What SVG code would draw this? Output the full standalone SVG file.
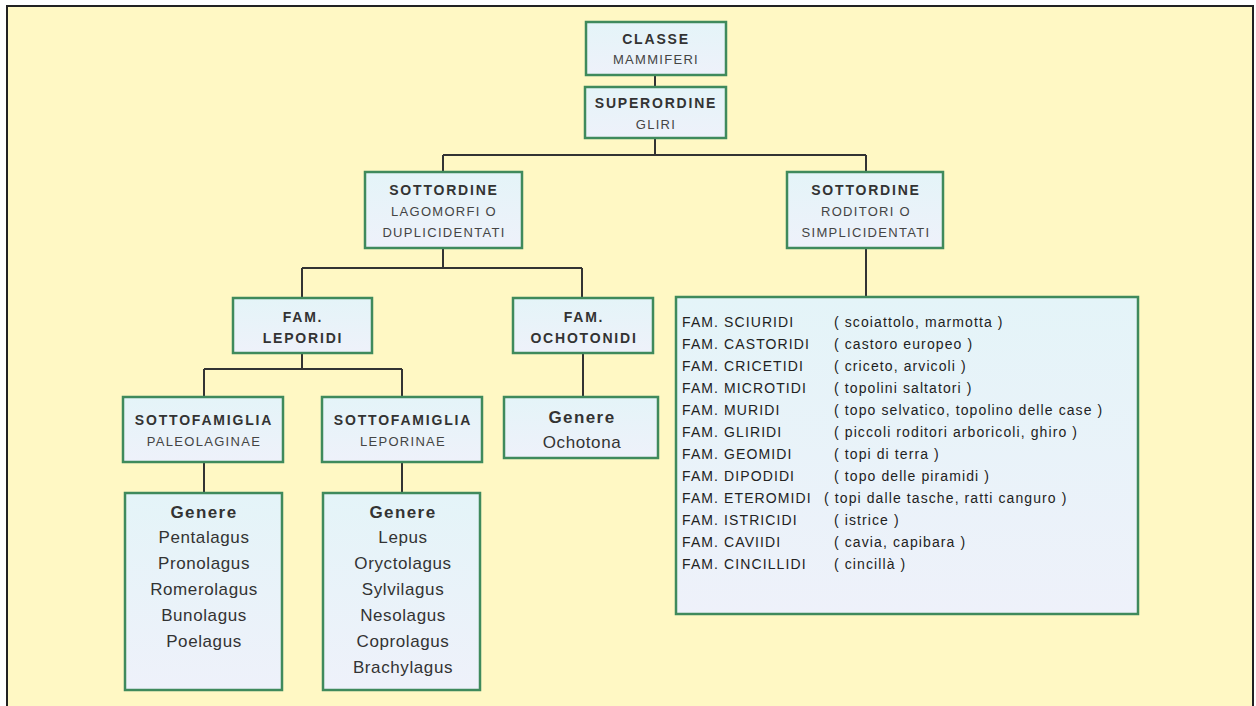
<svg xmlns="http://www.w3.org/2000/svg" width="1256" height="706" viewBox="0 0 1256 706">
<defs>
<linearGradient id="bf" x1="0" y1="0" x2="0" y2="1">
<stop offset="0" stop-color="#e4f4f8"/>
<stop offset="1" stop-color="#eef1fa"/>
</linearGradient>
<style>
.box{fill:url(#bf);stroke:#3f8a5c;stroke-width:2.5}
.t{font-family:"Liberation Sans",Arial,sans-serif;fill:#333;text-anchor:middle}
.h{font-size:14px;font-weight:bold;letter-spacing:1.8px}
.s{font-size:13px;letter-spacing:1.3px;fill:#444}
.g{font-size:17px;letter-spacing:0.6px}
.gb{font-size:17px;font-weight:bold;letter-spacing:1.4px}
.l{font-family:"Liberation Sans",Arial,sans-serif;fill:#222;font-size:14px;letter-spacing:1.1px}
.c{fill:none;stroke:#333;stroke-width:2}
</style>
</defs>
<rect x="0" y="0" width="1256" height="706" fill="#ffffff"/>
<rect x="7" y="6" width="1246" height="710" fill="#fff8c4" stroke="#222" stroke-width="2"/>
<g id="connectors">
<path class="c" d="M655 75V87"/>
<path class="c" d="M655 138V155M443 155H866M443 155V172M866 155V172"/>
<path class="c" d="M443 248V268M302 268H582M302 268V298M582 268V298"/>
<path class="c" d="M866 248V297"/>
<path class="c" d="M302 353V369M204 369H402M204 369V397M402 369V397"/>
<path class="c" d="M583 353V397"/>
<path class="c" d="M204 462V493M402 462V493"/>
</g>
<g id="classe">
<rect class="box" x="586" y="22" width="140" height="53"/>
<text class="t h" x="656" y="44">CLASSE</text>
<text class="t s" x="656" y="64">MAMMIFERI</text>
</g>
<g id="superordine">
<rect class="box" x="585" y="87" width="141" height="51"/>
<text class="t h" x="656" y="108">SUPERORDINE</text>
<text class="t s" x="656" y="129">GLIRI</text>
</g>
<g id="sottordine-lagomorfi">
<rect class="box" x="365" y="172" width="157" height="76"/>
<text class="t h" x="444" y="195">SOTTORDINE</text>
<text class="t s" x="444" y="216">LAGOMORFI O</text>
<text class="t s" x="444" y="237">DUPLICIDENTATI</text>
</g>
<g id="sottordine-roditori">
<rect class="box" x="787" y="172" width="156" height="76"/>
<text class="t h" x="866" y="195">SOTTORDINE</text>
<text class="t s" x="866" y="216">RODITORI O</text>
<text class="t s" x="866" y="237">SIMPLICIDENTATI</text>
</g>
<g id="fam-leporidi">
<rect class="box" x="233" y="298" width="139" height="55"/>
<text class="t h" x="303" y="322">FAM.</text>
<text class="t h" x="303" y="343">LEPORIDI</text>
</g>
<g id="fam-ochotonidi">
<rect class="box" x="513" y="298" width="140" height="55"/>
<text class="t h" x="584" y="322">FAM.</text>
<text class="t h" x="584" y="343">OCHOTONIDI</text>
</g>
<g id="sottofamiglia-paleolaginae">
<rect class="box" x="123" y="397" width="160" height="65"/>
<text class="t h" x="204" y="425">SOTTOFAMIGLIA</text>
<text class="t s" x="204" y="446">PALEOLAGINAE</text>
</g>
<g id="sottofamiglia-leporinae">
<rect class="box" x="322" y="397" width="160" height="65"/>
<text class="t h" x="403" y="425">SOTTOFAMIGLIA</text>
<text class="t s" x="403" y="446">LEPORINAE</text>
</g>
<g id="genere-ochotona">
<rect class="box" x="504" y="397" width="154" height="61"/>
<text class="t gb" x="582" y="423">Genere</text>
<text class="t g" x="582" y="448">Ochotona</text>
</g>
<g id="genere-paleolaginae">
<rect class="box" x="125" y="493" width="157" height="197"/>
<text class="t gb" x="204" y="518">Genere</text>
<text class="t g" x="204" y="543">Pentalagus</text>
<text class="t g" x="204" y="569">Pronolagus</text>
<text class="t g" x="204" y="595">Romerolagus</text>
<text class="t g" x="204" y="621">Bunolagus</text>
<text class="t g" x="204" y="647">Poelagus</text>
</g>
<g id="genere-leporinae">
<rect class="box" x="323" y="493" width="157" height="197"/>
<text class="t gb" x="403" y="518">Genere</text>
<text class="t g" x="403" y="543">Lepus</text>
<text class="t g" x="403" y="569">Oryctolagus</text>
<text class="t g" x="403" y="595">Sylvilagus</text>
<text class="t g" x="403" y="621">Nesolagus</text>
<text class="t g" x="403" y="647">Coprolagus</text>
<text class="t g" x="403" y="673">Brachylagus</text>
</g>
<g id="famiglie-roditori">
<rect class="box" x="676" y="297" width="462" height="317"/>
<text class="l" x="682" y="327">FAM. SCIURIDI</text><text class="l" x="834" y="327">( scoiattolo, marmotta )</text>
<text class="l" x="682" y="349">FAM. CASTORIDI</text><text class="l" x="834" y="349">( castoro europeo )</text>
<text class="l" x="682" y="371">FAM. CRICETIDI</text><text class="l" x="834" y="371">( criceto, arvicoli )</text>
<text class="l" x="682" y="393">FAM. MICROTIDI</text><text class="l" x="834" y="393">( topolini saltatori )</text>
<text class="l" x="682" y="415">FAM. MURIDI</text><text class="l" x="834" y="415">( topo selvatico, topolino delle case )</text>
<text class="l" x="682" y="437">FAM. GLIRIDI</text><text class="l" x="834" y="437">( piccoli roditori arboricoli, ghiro )</text>
<text class="l" x="682" y="459">FAM. GEOMIDI</text><text class="l" x="834" y="459">( topi di terra )</text>
<text class="l" x="682" y="481">FAM. DIPODIDI</text><text class="l" x="834" y="481">( topo delle piramidi )</text>
<text class="l" x="682" y="503">FAM. ETEROMIDI</text><text class="l" x="824" y="503">( topi dalle tasche, ratti canguro )</text>
<text class="l" x="682" y="525">FAM. ISTRICIDI</text><text class="l" x="834" y="525">( istrice )</text>
<text class="l" x="682" y="547">FAM. CAVIIDI</text><text class="l" x="834" y="547">( cavia, capibara )</text>
<text class="l" x="682" y="569">FAM. CINCILLIDI</text><text class="l" x="834" y="569">( cincillà )</text>
</g>
</svg>
